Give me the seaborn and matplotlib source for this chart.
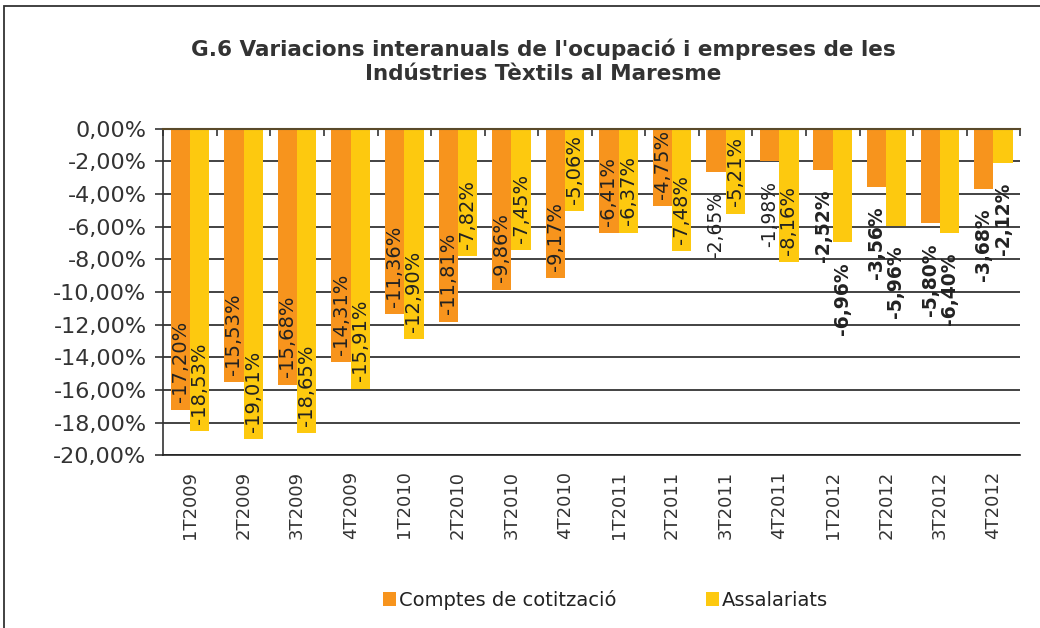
import numpy as np
import pandas as pd
import matplotlib
matplotlib.use("Agg")
import matplotlib.pyplot as plt
import matplotlib.patches as mpatches
from matplotlib.ticker import FixedLocator, FuncFormatter
import seaborn as sns

# Chart data (values in %)
quarters = ["1T2009", "2T2009", "3T2009", "4T2009",
            "1T2010", "2T2010", "3T2010", "4T2010",
            "1T2011", "2T2011", "3T2011", "4T2011",
            "1T2012", "2T2012", "3T2012", "4T2012"]
comptes = [-17.20, -15.53, -15.68, -14.31, -11.36, -11.81, -9.86, -9.17,
           -6.41, -4.75, -2.65, -1.98, -2.52, -3.56, -5.80, -3.68]
assalariats = [-18.53, -19.01, -18.65, -15.91, -12.90, -7.82, -7.45, -5.06,
               -6.37, -7.48, -5.21, -8.16, -6.96, -5.96, -6.40, -2.12]
series = ["Comptes de cotització", "Assalariats"]
colors = ["#F7941D", "#FDC90F"]

df = pd.DataFrame({
    "Trimestre": quarters * 2,
    "Serie": [series[0]] * len(quarters) + [series[1]] * len(quarters),
    "Valor": comptes + assalariats,
})

sns.set_style("white")
plt.rcParams["font.family"] = ["DejaVu Sans"]

fig = plt.figure(figsize=(10.4, 6.28), dpi=100)
ax = fig.add_axes([0.157, 0.275, 0.824, 0.520])

sns.barplot(data=df, x="Trimestre", y="Valor", hue="Serie", palette=colors,
            width=0.72, saturation=1, linewidth=0, ax=ax, legend=True)

ax.set_ylim(-20, 0)
ax.set_xlim(-0.5, len(quarters) - 0.5)
ax.set_xlabel("")
ax.set_ylabel("")

# y axis
ax.yaxis.set_major_locator(FixedLocator(np.arange(-20, 0.1, 2)))
ax.yaxis.set_major_formatter(FuncFormatter(
    lambda v, p: ("%.2f%%" % (abs(v) if abs(v) < 1e-9 else v)).replace(".", ",")))
ax.grid(axis="y", color="#222222", linewidth=1.2)
ax.set_axisbelow(True)
ax.tick_params(axis="y", direction="out", length=6, width=1.2, color="#333333",
               labelsize=16, labelcolor="#333333", pad=6, left=True)

# x axis: labels at bottom, category ticks on the zero line
ax.tick_params(axis="x", which="major", length=0, labelsize=13,
               labelcolor="#333333", pad=11, rotation=90)
ax.xaxis.set_minor_locator(FixedLocator(np.arange(-0.5, len(quarters), 1)))
ax.tick_params(axis="x", which="minor", top=True, bottom=False,
               direction="in", length=5, width=1.2, color="#333333")

ax.spines["right"].set_visible(False)
ax.spines["left"].set_color("#333333")
ax.spines["left"].set_linewidth(1.2)
ax.spines["top"].set_color("#5a4a2a")
ax.spines["top"].set_linewidth(1.5)
ax.spines["bottom"].set_color("#222222")
ax.spines["bottom"].set_linewidth(1.2)

# data labels
for ci, cont in enumerate(ax.containers):
    vals = comptes if ci == 0 else assalariats
    for bar, v, q in zip(cont, vals, quarters):
        xc = bar.get_x() + bar.get_width() / 2
        txt = ("%.2f%%" % v).replace(".", ",")
        is2012 = q.endswith("2012")
        outside = is2012 or abs(v) < 3
        if outside:
            ax.text(xc, v - 1.2, txt, rotation=90, rotation_mode="anchor",
                    ha="right", va="center", fontsize=13.5,
                    fontweight="bold" if is2012 else "normal",
                    color="#222222", clip_on=False)
        else:
            ax.text(xc, v + 0.45, txt, rotation=90, rotation_mode="anchor",
                    ha="left", va="center", fontsize=14, color="#222222")

# legend
handles, labels = ax.get_legend_handles_labels()
ax.legend(handles, labels, loc="center", bbox_to_anchor=(0.582, 0.045),
          bbox_transform=fig.transFigure, ncol=2, frameon=False,
          fontsize=14, handlelength=0.7, handleheight=0.7,
          handletextpad=0.12, columnspacing=4.6, labelcolor="#222222")

# title
fig.text(0.522, 0.902, "G.6 Variacions interanuals de l'ocupació i empreses de les\n"
         "Indústries Tèxtils al Maresme", ha="center", va="center",
         fontsize=15.5, fontweight="bold", color="#333333", linespacing=1.25)

# outer chart frame
fig.patches.append(mpatches.Rectangle((0.004, -0.1), 1.2, 1.09, fill=False,
                                      edgecolor="#333333", linewidth=1.3,
                                      transform=fig.transFigure, figure=fig))

fig.savefig("out.png", dpi=100)
